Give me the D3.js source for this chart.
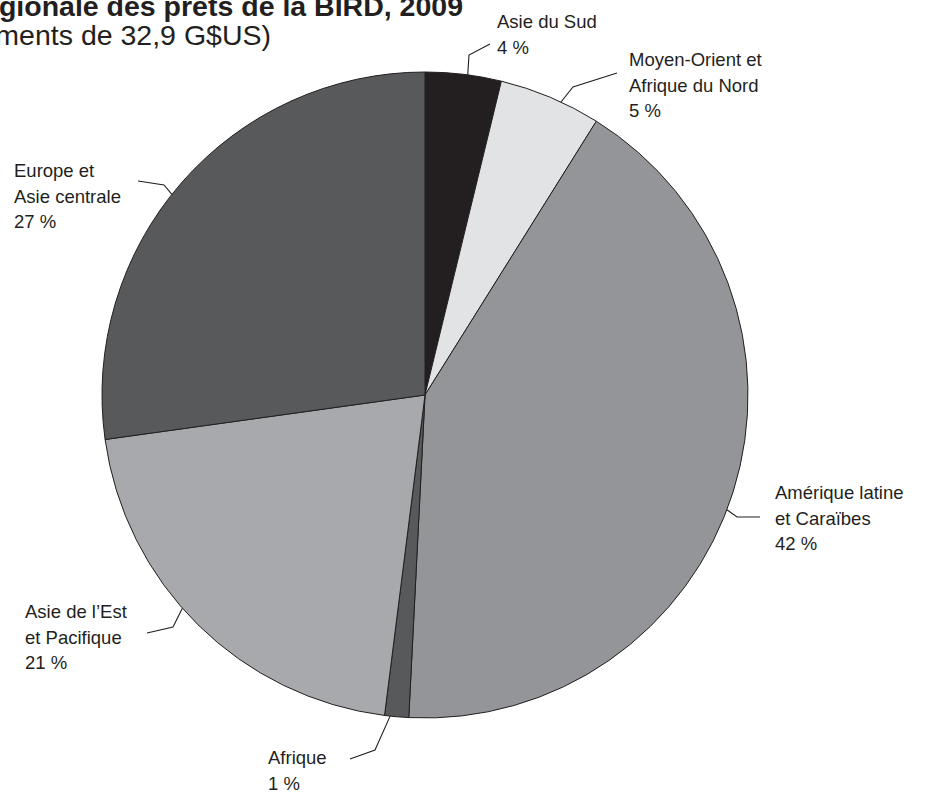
<!DOCTYPE html>
<html lang="fr">
<head>
<meta charset="UTF-8">
<title>Répartition régionale des prêts de la BIRD, 2009</title>
<script src="https://d3js.org/d3.v7.min.js"></script>
<style>
  body { margin: 0; background: #fff; }
  svg text { font-family: "Liberation Sans", Arial, Helvetica, sans-serif; fill: #231f20; }
</style>
</head>
<body>
<div id="chart"></div>
<script>
// regions, clockwise from 12 o'clock
var regions = ["Asie du Sud", "Moyen-Orient et Afrique du Nord", "Amérique latine et Caraïbes",
               "Afrique", "Asie de l’Est et Pacifique", "Europe et Asie centrale"];
// share of commitments (%)
var shares = [3.8, 5.1, 41.9, 1.2, 20.8, 27.2];
// labels as printed
var labelLines = [
  ["Asie du Sud", "4 %"],
  ["Moyen-Orient et", "Afrique du Nord", "5 %"],
  ["Amérique latine", "et Caraïbes", "42 %"],
  ["Afrique", "1 %"],
  ["Asie de l’Est", "et Pacifique", "21 %"],
  ["Europe et", "Asie centrale", "27 %"]
];
var sliceColors = ["#231f20", "#e2e3e4", "#939598", "#58595b", "#a7a9ac", "#58595b"];

var width = 933, height = 796;
var cx = 425, cy = 395, radius = 323;

// label layout: text anchor point + leader (angle on the rim in degrees, elbow, end)
var labelLayout = [
  {x: 497, y: 28,  rim: 7.6,   elbow: [469, 55],  end: [490, 44]},
  {x: 629, y: 66,  rim: 24.9,  elbow: [573, 87],  end: [617, 73]},
  {x: 775, y: 499, rim: 110.8, elbow: [737, 517], end: [760, 517]},
  {x: 268, y: 764, rim: 186.2, elbow: [375, 750], end: [350, 759]},
  {x: 25,  y: 618, rim: 228.7, elbow: [173, 627], end: [147, 633]},
  {x: 14,  y: 177, rim: 308.4, elbow: [164, 185], end: [138, 181]}
];

var svg = d3.select("#chart").append("svg")
  .attr("width", width)
  .attr("height", height);

// title (runs off the top-left edge as in the source)
svg.append("text")
  .attr("x", 463).attr("y", 16)
  .attr("text-anchor", "end")
  .style("font-size", "28.5px").style("font-weight", "bold")
  .text("Répartition régionale des prêts de la BIRD, 2009");
svg.append("text")
  .attr("x", 271).attr("y", 45)
  .attr("text-anchor", "end")
  .style("font-size", "28.5px")
  .text("(engagements de 32,9 G$US)");

var data = regions.map(function(r, i) { return {region: r, value: shares[i], i: i}; });

var pie = d3.pie().sort(null).value(function(d) { return d.value; });
var arc = d3.arc().innerRadius(0).outerRadius(radius);

var g = svg.append("g").attr("transform", "translate(" + cx + "," + cy + ")");

g.selectAll("path.slice")
  .data(pie(data))
  .enter()
  .append("path")
    .attr("class", "slice")
    .attr("d", arc)
    .attr("fill", function(d) { return sliceColors[d.data.i]; })
    .attr("stroke", "#231f20")
    .attr("stroke-width", 1);

// leader lines + labels
labelLayout.forEach(function(l, i) {
  var a = l.rim * Math.PI / 180;
  var p0 = [cx + radius * Math.sin(a), cy - radius * Math.cos(a)];
  svg.append("polyline")
    .attr("points", [p0, l.elbow, l.end].map(function(p) { return p.join(","); }).join(" "))
    .attr("fill", "none")
    .attr("stroke", "#231f20")
    .attr("stroke-width", 1.1);

  var t = svg.append("text")
    .attr("x", l.x).attr("y", l.y)
    .style("font-size", "18.5px");
  labelLines[i].forEach(function(line, k) {
    t.append("tspan")
      .attr("x", l.x)
      .attr("dy", k === 0 ? 0 : 25.5)
      .text(line);
  });
});
</script>
</body>
</html>
